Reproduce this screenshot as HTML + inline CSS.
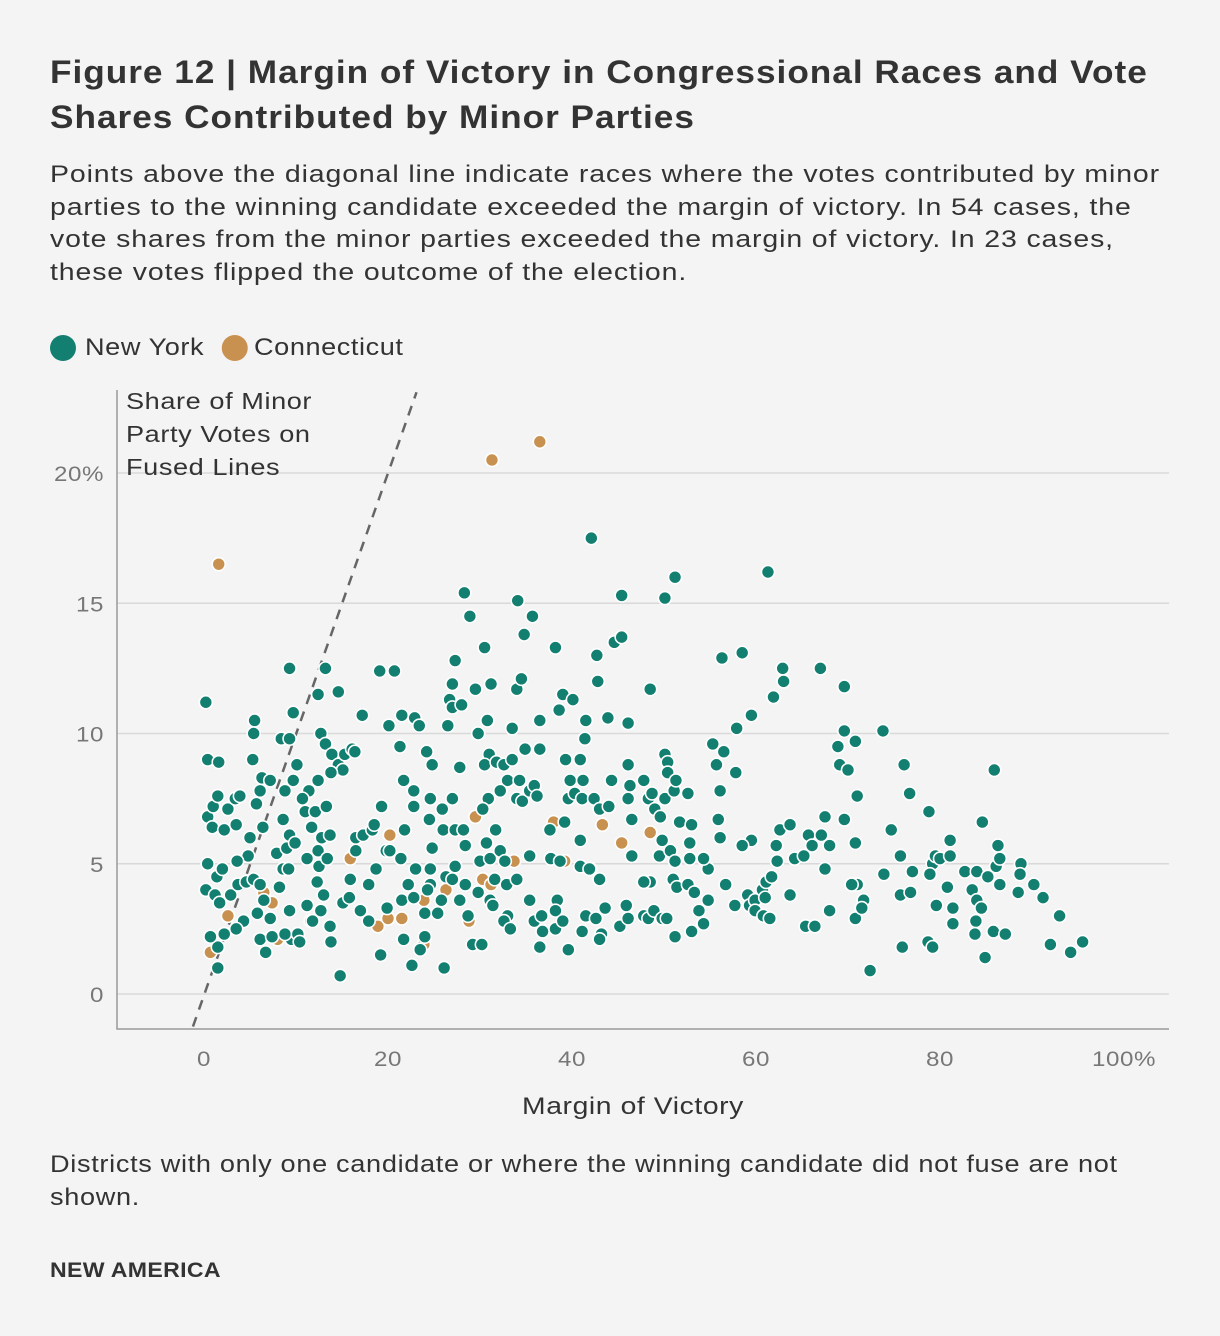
<!DOCTYPE html>
<html><head><meta charset="utf-8"><style>
body{margin:0;background:#f4f4f4;width:1220px;height:1336px;overflow:hidden;font-family:"Liberation Sans",sans-serif;color:#333}
.t{position:absolute;left:50px;margin:0;white-space:nowrap;transform-origin:0 0}
</style></head><body>
<h1 class="t" style="top:50px;font-size:32px;line-height:45px;font-weight:bold;color:#333;letter-spacing:0.9px;transform:scaleX(1.1)">Figure 12 | Margin of Victory in Congressional Races and Vote<br>Shares Contributed by Minor Parties</h1>
<p class="t" style="top:159px;font-size:24px;line-height:32.5px;color:#333;letter-spacing:0.75px;transform:scaleX(1.185)">Points above the diagonal line indicate races where the votes contributed by minor<br>parties to the winning candidate exceeded the margin of victory. In 54 cases, the<br>vote shares from the minor parties exceeded the margin of victory. In 23 cases,<br>these votes flipped the outcome of the election.</p>
<div style="position:absolute;left:50px;top:333px;font-size:24px;line-height:30px;letter-spacing:0.5px;white-space:nowrap;transform-origin:0 0;transform:scaleX(1.13)">
<span><span style="display:inline-block;width:23px;height:26px;border-radius:50%;background:#127f70;vertical-align:-6px;margin-right:8px"></span>New York</span>
<span style="margin-left:16px"><span style="display:inline-block;width:23px;height:26px;border-radius:50%;background:#c8914f;vertical-align:-6px;margin-right:6px;margin-left:-8px"></span>Connecticut</span>
</div>
<svg id="chart" width="1220" height="1336" style="position:absolute;left:0;top:0" xmlns="http://www.w3.org/2000/svg"></svg>
<p class="t" style="top:1148px;font-size:24px;line-height:33px;letter-spacing:0.6px;transform:scaleX(1.13)">Districts with only one candidate or where the winning candidate did not fuse are not<br>shown.</p>
<p class="t" style="top:1259px;font-size:21px;font-weight:bold;color:#333;letter-spacing:0.3px;transform:scaleX(1.1)">NEW AMERICA</p>
<script>
const xTicks=[0,20,40,60,80,100];
const xTickLabels=["0","20","40","60","80","100%"];
const yTicks=[0,5,10,15,20];
const yTickLabels=["0","5","10","15","20%"];
const nyX=[0.2,0.4,1.6,0.4,0.9,1,1.5,2.2,2.6,3.4,3.9,3.5,5.5,5.4,5.3,6.3,7.2,6.1,5.7,6.4,5,4.8,3.6,0.4,1.4,2,0.2,1.2,1.7,2.9,3.7,4.6,5.4,6.1,6.5,5.8,4.3,3.5,2.2,1.5,1.5,0.7,6.1,6.7,7.4,7.2,8.2,8.6,7.9,8.4,9.3,9.7,9.3,10.1,9.7,8.8,8.6,9.3,9,9.9,9.2,9.3,9.5,8.8,10.2,
13.2,12.4,14.6,12.7,13.2,13.9,14.6,15.3,15.1,13.8,12.4,11.4,10.7,11,12.1,13.3,11.7,12.8,13.7,12.4,11.2,12.5,13.4,12.3,13,11.2,11.8,12.7,13.7,13.8,10.4,14.8,15.1,15.8,15.9,16.5,17.3,16.5,17.2,16.1,16.4,19.1,20.7,18.3,18.5,17.9,18.7,17,17.9,19.3,19.8,19.9,19.2,20.2,
20.1,21.3,21.5,22.9,21.7,22.8,23.4,21.8,22.8,21.4,23,22.2,21.5,22.8,21.7,22.6,23.5,24,24,24.6,24.3,24.6,24.8,24.5,24.6,24.8,24.2,25.9,26,26.3,25.8,25.4,26.1,26.5,26.7,27,27.3,27,28,28.3,28.9,27.8,27,27.3,28.2,28.4,27.3,27,28.4,27.8,28.7,29.2,29.5,29.8,30,29.8,
30.5,31.2,30.8,31,30.5,31.8,32.6,33.5,33,32.2,30.9,30.3,31.7,30.7,31.1,32.2,32.7,31.6,31.1,31.4,32.9,33,30.2,32.6,33.3,34.1,35.7,34.8,34,34.5,33.5,34.9,34.3,34,34.6,35.4,35.9,36.2,36.5,36.5,35.4,34,35.4,35.9,36.7,36.5,36.8,38.2,38.6,39,37.6,37.7,38.7,38.4,38.2,38.2,39,39.6,39.3,39.8,39.6,39.2,40.1,
42.1,42.7,42.8,41.5,41.4,40.9,41.2,40.3,41.1,42.4,43,44,44.3,43.9,44.6,45.4,45.4,46.1,46.1,46.3,46.1,46.5,40.9,40.9,41.9,43,41.5,41.1,42.6,43.2,43,43.6,45.2,46.1,45.9,46.5,47.8,48.5,48.3,49,48.7,49.6,50.1,50.4,50.4,50.1,49.8,49.5,48.5,47.8,48.3,48.9,49.8,50.3,47.8,
50.1,51.2,50.7,51,51.2,51.2,51.4,51.7,51.1,51.3,52.6,53,52.8,52.8,52.6,53.3,53,54.3,53.8,54.8,54.8,54.3,55.3,55.7,56.1,55.9,56.1,56.5,56.3,56.7,57.8,57.7,57.9,58.5,59.1,59.3,59.5,59.5,58.5,59.9,59.9,
61.3,61.9,62.9,63,60.7,61,60.8,61.5,61.1,61.7,62.3,62.2,62.6,63.7,64.2,63.7,65.2,65.4,65.7,66.1,66.4,67,67.1,67.5,67.5,68,68,68.9,69.1,69.6,69.6,70,69.6,
70.8,71,70.8,71,70.4,71.7,70.8,71.5,72.4,73.8,74.7,73.9,76.1,76.7,75.7,75.7,75.9,77,76.8,78.8,79.2,79.5,78.9,79.6,78.7,79.2,80,
81.1,81.1,80.8,81.4,81.4,82.7,83.5,84,84,83.9,83.8,84.6,84.5,84.9,85.2,85.9,86.1,86.3,86.5,86.5,85.8,87.1,88.5,88.8,88.7,90.2,91.2,92,93,94.2,95.5];
const nyY=[11.2,9.0,8.9,6.8,6.4,7.2,7.6,6.3,7.1,7.5,7.6,6.5,10.5,10,9,8.3,8.2,7.8,7.3,6.4,6,5.3,5.1,5,4.5,4.8,4.0,3.8,3.5,3.8,4.2,4.3,4.4,4.2,3.6,3.1,2.8,2.5,2.3,1.8,1.0,2.2,2.1,1.6,2.2,2.9,4.1,4.8,5.4,9.8,12.5,10.8,9.8,8.8,8.2,7.8,6.7,6.1,5.6,5.8,4.8,3.2,2.1,2.3,2.3,
12.5,11.5,11.6,10,9.6,9.2,8.8,9.2,8.6,8.5,8.2,7.8,7.5,7,7,7.2,6.4,6.0,6.1,5.5,5.2,4.9,5.2,4.3,3.8,3.4,2.8,3.2,2.6,2.0,2.0,0.7,3.5,3.7,4.4,6,6.1,5.5,10.7,9.4,9.3,12.4,12.4,6.3,6.5,4.2,4.8,3.2,2.8,7.2,5.5,3.3,1.5,5.5,
10.3,9.5,10.7,10.6,8.2,7.8,10.3,6.3,7.2,5.2,4.8,4.2,3.6,3.7,2.1,1.1,1.7,2.2,3.1,4.2,4.0,4.8,5.6,6.7,7.5,8.8,9.3,7.1,6.3,4.5,3.6,3.1,1,10.3,11.3,11.9,12.8,11,11.1,15.4,14.5,8.7,7.5,6.3,6.3,5.7,4.9,4.4,4.2,3.6,3,1.9,11.7,10,5.1,3.9,
13.3,11.9,10.5,9.2,8.8,8.9,8.8,9,8.2,7.8,7.5,7.1,6.3,5.8,5.2,5.5,5.1,4.4,3.6,3.4,4.2,3.0,1.9,2.8,2.5,15.1,14.5,13.8,11.7,12.1,10.2,9.4,8.2,7.5,7.4,7.8,8.0,7.6,9.4,10.5,5.3,4.4,3.6,2.8,3,1.8,2.4,13.3,10.9,11.5,6.3,5.2,5.1,3.6,3.2,2.5,2.8,1.7,9,8.2,7.5,6.6,11.3,
17.5,13,12,10.5,9.8,9,8.2,7.7,7.5,7.5,7.1,7.2,8.2,10.6,13.5,13.7,15.3,10.4,8.8,8.0,7.5,6.7,5.9,4.9,4.8,4.4,3,2.4,2.9,2.3,2.1,3.3,2.6,2.9,3.4,5.3,8.2,11.7,7.5,7.1,7.7,6.8,9.2,8.9,8.5,7.5,5.9,5.3,4.3,3,2.9,3.2,2.9,2.9,4.3,
15.2,16,5.5,4.4,5.1,2.2,4.1,6.6,7.8,8.2,7.7,6.5,5.8,5.2,4.2,3.9,2.4,2.7,3.2,3.6,4.8,5.2,9.6,8.8,7.8,6.7,6.0,9.3,12.9,4.2,8.5,3.4,10.2,13.1,3.8,3.4,10.7,5.9,5.7,3.6,3.2,
16.2,11.4,12.5,12.0,4.0,3.7,3.0,2.9,4.3,4.5,5.1,5.7,6.3,6.5,5.2,3.8,5.3,2.6,6.1,5.7,2.6,12.5,6.1,6.8,4.8,5.7,3.2,9.5,8.8,11.8,10.1,8.6,6.7,
9.7,7.6,5.8,4.2,4.2,3.6,2.9,3.3,0.9,10.1,6.3,4.6,8.8,7.7,5.3,3.8,1.8,4.7,3.9,7,5,5.3,4.6,3.4,2,1.8,5.2,
5.9,5.3,4.1,3.3,2.7,4.7,4.0,4.7,3.6,2.8,2.3,6.6,3.3,1.4,4.5,8.6,4.9,5.7,5.2,4.2,2.4,2.3,3.9,5,4.6,4.2,3.7,1.9,3.0,1.6,2.0];
const ctX=[1.6,31.3,36.5,0.7,2.6,6.5,7.4,8.0,11.6,15.9,18.9,20.2,20.0,21.5,23.9,23.9,26.3,28.8,29.5,30.3,31.2,33.7,38,39.2,42,43.3,45.4,48.5];
const ctY=[16.5,20.5,21.2,1.6,3.0,3.9,3.5,2.1,2.8,5.2,2.6,6.1,2.9,2.9,1.9,3.6,4.0,2.8,6.8,4.4,4.2,5.1,6.6,5.1,4.8,6.5,5.8,6.2];

const svg=document.getElementById('chart');
const NS='http://www.w3.org/2000/svg';
const X0=117,X1=1169,Y0=1029,Y1=390;
const xs=v=>204+v*9.2;
const ys=v=>994-v*26.05;
function mk(tag,attrs,parent){const e=document.createElementNS(NS,tag);for(const k in attrs)e.setAttribute(k,attrs[k]);(parent||svg).appendChild(e);return e;}
function txt(x,y,s,sx,attrs){const t=mk('text',Object.assign({x:0,y:0,transform:`translate(${x},${y}) scale(${sx},1)`},attrs));t.textContent=s;return t;}
yTicks.forEach((t,i)=>{
  const g=mk('line',{x1:X0,x2:X1,y1:ys(t),y2:ys(t),stroke:'#d9d9d9','stroke-width':1.5});
  
  
  const l=txt(104,ys(t)+8,yTickLabels[i],1.15,{'text-anchor':'end','font-size':21,fill:'#777','letter-spacing':'0.5'});
  
  
});
xTicks.forEach((t,i)=>{
  const px=i===xTicks.length-1?xs(t)+0:xs(t);
  const l=txt(px,1066,xTickLabels[i],1.15,{'text-anchor':'middle','font-size':21,fill:'#777','letter-spacing':'0.5'});
  
  
});
const ax=mk('path',{d:`M${X0} ${Y1}V${Y0}H${X1}`,fill:'none',stroke:'#999','stroke-width':1.5});


const ytl=['Share of Minor','Party Votes on','Fused Lines'];
ytl.forEach((s,i)=>{const t=txt(126,409+i*33,s,1.155,{'font-size':23.5,fill:'#333','letter-spacing':'0.5'});

});
const xt=txt(633,1114,'Margin of Victory',1.18,{'text-anchor':'middle','font-size':24,fill:'#333','letter-spacing':'0.5'});


const d=mk('line',{x1:xs(-1.2),y1:ys(-1.25),x2:xs(23.1),y2:ys(23.1),stroke:'#666','stroke-width':2.5,'stroke-dasharray':'10 8'});


function dots(X,Y,col,name){X.forEach((v,i)=>{const c=mk('circle',{cx:xs(v),cy:ys(Y[i]),r:6.5,fill:col,stroke:'#fff','stroke-width':1.6});

});}
dots(ctX,ctY,'#c8914f','point-connecticut');
dots(nyX,nyY,'#127f70','point-new-york');
</script>
</body></html>
